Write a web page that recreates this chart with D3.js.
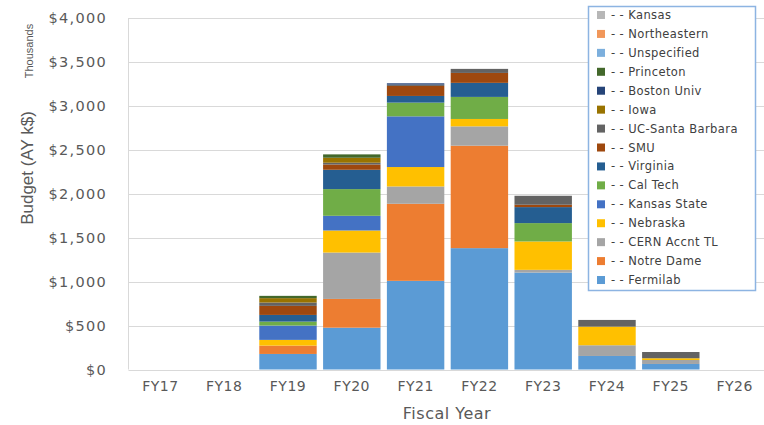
<!DOCTYPE html>
<html>
<head>
<meta charset="utf-8">
<script src="https://cdn.jsdelivr.net/npm/d3@7/dist/d3.min.js"></script>
<style>
  html, body { margin: 0; padding: 0; background: #fff; }
  svg { display: block; }
</style>
</head>
<body>
<svg id="chart" width="764" height="425"></svg>
<script>
// Fiscal years on the x axis
const years = ["FY17", "FY18", "FY19", "FY20", "FY21", "FY22", "FY23", "FY24", "FY25", "FY26"];

// Budget by institution, AY k$, one value per fiscal year (stacked bottom to top)
const fermilab        = [0, 0, 177, 476, 1009, 1381, 1103, 154, 63, 0];
const notreDame       = [0, 0, 95, 327, 877, 1166, 0, 0, 0, 0];
const cernAccntTL     = [0, 0, 0, 528, 197, 220, 31, 122, 45, 0];
const nebraska        = [0, 0, 65, 251, 221, 84, 323, 212, 20, 0];
const kansasState     = [0, 0, 163, 167, 577, 0, 0, 0, 0, 0];
const calTech         = [0, 0, 45, 304, 156, 251, 209, 0, 0, 0];
const virginia        = [0, 0, 76, 220, 76, 160, 182, 0, 0, 0];
const smu             = [0, 0, 103, 60, 114, 113, 27, 0, 0, 0];
const ucSantaBarbara  = [0, 0, 38, 20, 15, 46, 102, 76, 71, 0];
const iowa            = [0, 0, 50, 57, 0, 0, 0, 0, 0, 0];
const bostonUniv      = [0, 0, 0, 0, 15, 0, 0, 0, 0, 0];
const princeton       = [0, 0, 26, 38, 0, 0, 0, 0, 0, 0];
const unspecified     = [0, 0, 0, 0, 0, 0, 0, 0, 0, 0];
const northeastern    = [0, 0, 0, 0, 0, 0, 0, 0, 0, 0];
const kansas          = [0, 0, 0, 0, 0, 0, 0, 0, 0, 0];

const seriesNames = ["Fermilab", "Notre Dame", "CERN Accnt TL", "Nebraska", "Kansas State",
  "Cal Tech", "Virginia", "SMU", "UC-Santa Barbara", "Iowa", "Boston Univ", "Princeton",
  "Unspecified", "Northeastern", "Kansas"];
const seriesValues = [fermilab, notreDame, cernAccntTL, nebraska, kansasState, calTech,
  virginia, smu, ucSantaBarbara, iowa, bostonUniv, princeton, unspecified, northeastern, kansas];
const seriesColors = ["#5B9BD5", "#ED7D31", "#A5A5A5", "#FFC000", "#4472C4", "#70AD47",
  "#255E91", "#9E480E", "#636363", "#997300", "#264478", "#43682B", "#7CAFDD", "#F1975A", "#B7B7B7"];

const yTicks = [0, 500, 1000, 1500, 2000, 2500, 3000, 3500, 4000];

// Build rows for d3.stack
const rows = years.map((yr, i) => {
  const r = { year: yr };
  seriesNames.forEach((n, s) => { r[n] = seriesValues[s][i]; });
  return r;
});
const stacked = d3.stack().keys(seriesNames)(rows);

const svg = d3.select("#chart");
const plotLeft = 128.5, plotRight = 766.5, plotTop = 18, plotBottom = 369.5;

const x = d3.scaleBand().domain(years).range([plotLeft, plotRight]).paddingInner(0.1).paddingOuter(0.05);
const y = d3.scaleLinear().domain([0, 4000]).range([plotBottom, plotTop]);
const color = d3.scaleOrdinal().domain(seriesNames).range(seriesColors);

// Horizontal gridlines
svg.append("g")
  .selectAll("line")
  .data(yTicks)
  .join("line")
  .attr("x1", plotLeft).attr("x2", 764)
  .attr("y1", d => Math.round(y(d)) + 0.5).attr("y2", d => Math.round(y(d)) + 0.5)
  .attr("stroke", "#d9d9d9").attr("stroke-width", 1);

// Left axis line
svg.append("line")
  .attr("x1", plotLeft).attr("x2", plotLeft)
  .attr("y1", y(4000)).attr("y2", y(0))
  .attr("stroke", "#d9d9d9");

// Y axis labels
const yAxis = d3.axisLeft(y).tickValues(yTicks).tickSize(0).tickPadding(0)
  .tickFormat(d => "$" + d3.format(",")(d));
svg.append("g")
  .attr("transform", `translate(107,0)`)
  .call(yAxis)
  .call(g => g.select(".domain").remove())
  .call(g => g.selectAll("text")
    .attr("font-family", "DejaVu Sans")
    .attr("font-size", 14.5)
    .attr("letter-spacing", 1.3)
    .attr("fill", "#595959"));

// Stacked bars
svg.append("g")
  .selectAll("g")
  .data(stacked)
  .join("g")
  .attr("fill", d => color(d.key))
  .selectAll("rect")
  .data(d => d.filter(seg => seg[1] - seg[0] > 0))
  .join("rect")
  .attr("x", seg => x(seg.data.year))
  .attr("width", x.bandwidth())
  .attr("y", seg => y(seg[1]))
  .attr("height", seg => y(seg[0]) - y(seg[1]));

// X axis labels
const xAxis = d3.axisBottom(x).tickSize(0).tickPadding(0);
svg.append("g")
  .attr("transform", `translate(0,${plotBottom + 12})`)
  .call(xAxis)
  .call(g => g.select(".domain").remove())
  .call(g => g.selectAll("text")
    .attr("font-family", "DejaVu Sans")
    .attr("font-size", 14)
    .attr("letter-spacing", 0.5)
    .attr("fill", "#595959"));

// Axis titles
svg.append("text")
  .attr("x", 447).attr("y", 419)
  .attr("text-anchor", "middle")
  .attr("font-family", "DejaVu Sans")
  .attr("font-size", 16)
  .attr("letter-spacing", 0.5)
  .attr("fill", "#595959")
  .text("Fiscal Year");

svg.append("text")
  .attr("transform", "translate(33,168) rotate(-90)")
  .attr("text-anchor", "middle")
  .attr("font-family", "Liberation Sans")
  .attr("font-size", 17)
  .attr("fill", "#595959")
  .text("Budget (AY k$)");

svg.append("text")
  .attr("transform", "translate(33,51) rotate(-90)")
  .attr("text-anchor", "middle")
  .attr("font-family", "Liberation Sans")
  .attr("font-size", 11)
  .attr("fill", "#595959")
  .text("Thousands");

// Legend (top series first)
const legend = svg.append("g");
legend.append("rect")
  .attr("x", 588.5).attr("y", 6.5).attr("width", 167).attr("height", 284)
  .attr("fill", "#fff").attr("stroke", "#8DB4E2").attr("stroke-width", 1.5);

const legendItems = seriesNames.slice().reverse();
const item = legend.selectAll("g.item")
  .data(legendItems)
  .join("g")
  .attr("class", "item")
  .attr("transform", (d, i) => `translate(0,${15 + i * 18.93})`);
item.append("rect")
  .attr("x", 597).attr("y", -4).attr("width", 8).attr("height", 8)
  .attr("fill", d => color(d));
item.append("text")
  .attr("x", 611).attr("y", 4)
  .attr("font-family", "DejaVu Sans")
  .attr("font-size", 11.5)
  .attr("letter-spacing", 0.4)
  .attr("fill", "#404040")
  .text(d => "- - " + d);
</script>
</body>
</html>
